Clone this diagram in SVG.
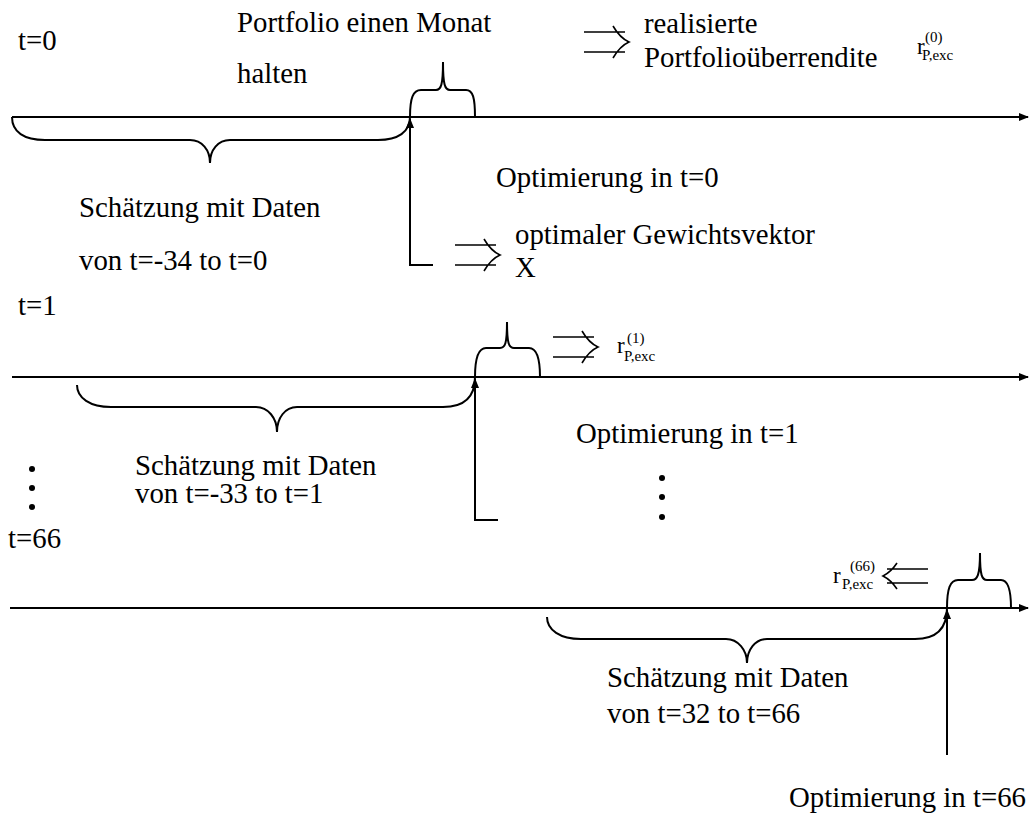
<svg xmlns="http://www.w3.org/2000/svg" width="1029" height="814" viewBox="0 0 1029 814" font-family="'Liberation Serif', serif">
<style>
text{font-family:'Liberation Serif','Times New Roman',serif;fill:#000}
.t{font-size:28.8px}
.r{font-size:23px}
.s{font-size:15px}
.ln{stroke:#000;stroke-width:2;fill:none}
.ar{stroke:#000;stroke-width:1.6;fill:none}
.br{stroke:#000;stroke-width:2;fill:none}
.dot{fill:#000}
</style>
<defs>
<marker id="ah" viewBox="0 0 10 8" refX="9" refY="4" markerWidth="10" markerHeight="8" markerUnits="userSpaceOnUse" orient="auto"><path d="M0,0 L10,4 L0,8 z" fill="#000"/></marker>
</defs>
<rect width="1029" height="814" fill="#fff"/>

<g id="connectors">
<line class="ln" x1="12" y1="117" x2="1028" y2="117" marker-end="url(#ah)"/>
<line class="ln" x1="12" y1="377" x2="1028" y2="377" marker-end="url(#ah)"/>
<line class="ln" x1="10" y1="608" x2="1028" y2="608" marker-end="url(#ah)"/>
<path class="ln" d="M433,265 L410,265 L410,119" marker-end="url(#ah)"/>
<path class="ln" d="M498,520 L475,520 L475,379" marker-end="url(#ah)"/>
<path class="ln" d="M947,755 L947,610" marker-end="url(#ah)"/>
</g>

<g id="period0">
<text class="t" x="18" y="50">t=0</text>
<text class="t" x="237" y="32">Portfolio einen Monat</text>
<text class="t" x="237" y="83">halten</text>
<path class="br" d="M410,117 C410,98 413,90 421,90 L436,90 C441,90 443,85 443,62 C443,85 445,90 450,90 L466,90 C473,90 475,98 475,117"/>
<path class="br" d="M12,117 C12,132 24,140 45,140 L190,140 C202,140 210,150 210,163 C210,150 218,140 230,140 L378,140 C398,140 410,132 410,117"/>
<path class="ar" d="M584,32 L625,32 M584,52 L625,52 M613,26 Q620,38 629,42 Q620,46 613,58"/>
<text class="t" x="644" y="33">realisierte</text>
<text class="t" x="644" y="67">Portfolioüberrendite</text>
<text class="r" x="917" y="54">r</text>
<text class="s" x="925" y="42">(0)</text>
<text class="s" x="922" y="60">P,exc</text>
<text class="t" x="496" y="187">Optimierung in t=0</text>
<text class="t" x="79" y="217">Schätzung mit Daten</text>
<text class="t" x="79" y="270">von t=-34 to t=0</text>
<path class="ar" d="M455,245 L496,245 M455,265 L496,265 M484,239 Q491,251 500,255 Q491,259 484,271"/>
<text class="t" x="515" y="244">optimaler Gewichtsvektor</text>
<text class="t" x="515" y="277">X</text>
</g>

<g id="period1">
<text class="t" x="18" y="315">t=1</text>
<path class="br" d="M475,377 C475,358 478,348 486,348 L500,348 C505,348 507,344 507,322 C507,344 509,348 514,348 L529,348 C536,348 540,358 540,377"/>
<path class="br" d="M77,385 C77,398 90,407 111,407 L256,407 C268,407 277,418 277,432 C277,418 285,407 297,407 L443,407 C463,407 475,398 475,377"/>
<path class="ar" d="M553,337 L594,337 M553,357 L594,357 M582,331 Q589,343 598,347 Q589,351 582,363"/>
<text class="r" x="617" y="353">r</text>
<text class="s" x="627" y="343">(1)</text>
<text class="s" x="624" y="361">P,exc</text>
<text class="t" x="576" y="443">Optimierung in t=1</text>
<text class="t" x="135" y="475">Schätzung mit Daten</text>
<text class="t" x="135" y="503">von t=-33 to t=1</text>
<circle class="dot" cx="662" cy="478" r="3"/>
<circle class="dot" cx="662" cy="497" r="3"/>
<circle class="dot" cx="662" cy="517" r="3"/>
<circle class="dot" cx="32" cy="469" r="3"/>
<circle class="dot" cx="32" cy="488" r="3"/>
<circle class="dot" cx="32" cy="507" r="3"/>
</g>

<g id="period66">
<text class="t" x="8" y="548">t=66</text>
<path class="br" d="M947,608 C947,589 950,580 958,580 L972,580 C977,580 980,576 980,553 C980,576 982,580 987,580 L1001,580 C1008,580 1011,589 1011,608"/>
<path class="br" d="M547,617 C547,630 560,639 581,639 L726,639 C738,639 747,650 747,663 C747,650 755,639 767,639 L915,639 C935,639 947,630 947,608"/>
<path class="ar" d="M928,569 L887,569 M928,583 L887,583 M897,563 Q891,572 883,576 Q891,580 897,589"/>
<text class="r" x="833" y="583">r</text>
<text class="s" x="850" y="571">(66)</text>
<text class="s" x="842" y="589">P,exc</text>
<text class="t" x="607" y="687">Schätzung mit Daten</text>
<text class="t" x="607" y="723">von t=32 to t=66</text>
<text class="t" x="789" y="807">Optimierung in t=66</text>
</g>
</svg>
